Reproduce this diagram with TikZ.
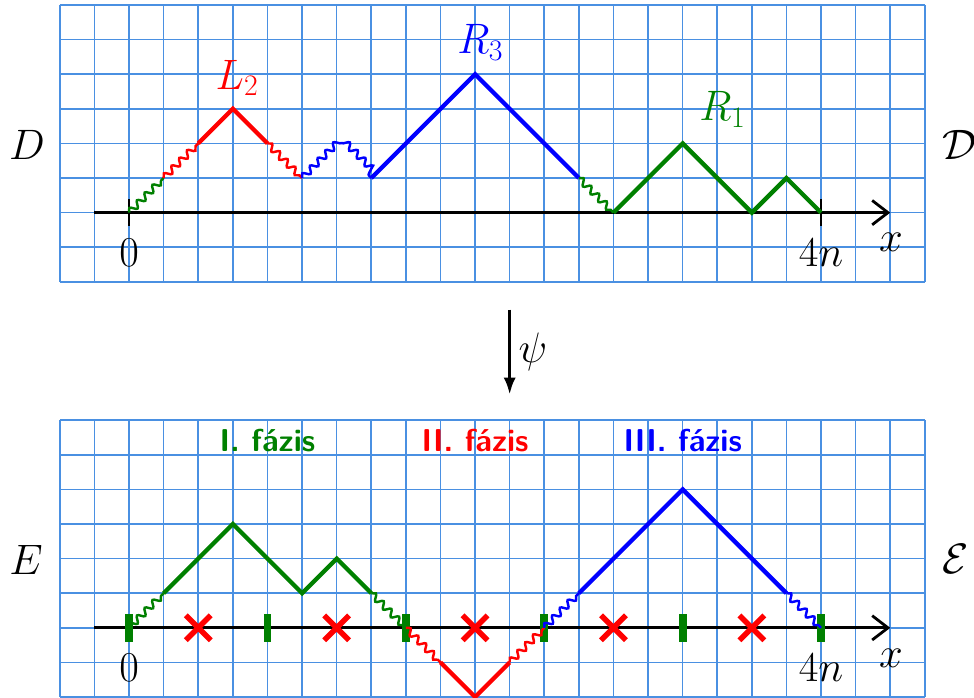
\RequirePackage{fix-cm}
\documentclass[tikz,border=0pt]{standalone}
\usetikzlibrary{arrows.meta, decorations.pathmorphing}
\definecolor{gridblue}{RGB}{74,144,226}
\definecolor{dgreen}{RGB}{0,128,0}

\begin{document}
\begin{tikzpicture}[
    gridl/.style  = {draw=gridblue, line width=1.3pt},
    axis/.style   = {line width=2.3pt, -{Straight Barb[length=13pt,width=20pt]}},
    tickl/.style  = {line width=2.3pt},
    thk/.style    = {line width=3.5pt},
    snk/.style    = {line width=2pt, decorate,
                     decoration={snake, segment length=9pt, amplitude=2.6pt}},
    phasetick/.style = {dgreen, line width=6.5pt},
    crs/.style    = {red, line width=4.5pt},
    lbl/.style    = {font=\fontsize{35}{42}\selectfont},
    phase/.style  = {font=\fontsize{26}{31}\selectfont\sffamily\bfseries, anchor=base},
    maparr/.style = {line width=2.6pt, -{Latex[length=14pt,width=10pt]}}
  ]
    \useasboundingbox (-3.73,-14) rectangle (24.42,6.145);

    % upper path D
    \draw[gridl] (-2,-2) grid (23,6);
    \coordinate (dstart) at (-1,0);
    \coordinate (dend)   at (22,0);
    \draw[axis] (dstart) -- (dend);
    \draw[tickl] (0,-0.38) -- (0,0.38);
    \draw[tickl] (20,-0.38) -- (20,0.38);

    \draw[snk, dgreen] (0,0) -- (1,1);
    \draw[snk, red] (1,1) -- (2,2);
    \draw[thk, red] (2,2) -- (3,3) -- (4,2);
    \draw[snk, red] (4,2) -- (5,1);
    \draw[snk, blue] (5,1) -- (6,2) -- (7,1);
    \draw[thk, blue] (7,1) -- (10,4) -- (13,1);
    \draw[snk, dgreen] (13,1) -- (14,0);
    \draw[thk, dgreen] (14,0) -- (16,2) -- (18,0) -- (19,1) -- (20,0);

    \node[lbl, red]    (ltwo)   at (3.12,3.9)   {$L_2$};
    \node[lbl, blue]   (rthree) at (10.15,4.92) {$R_3$};
    \node[lbl, dgreen] (rone)   at (17.15,2.98) {$R_1$};

    \node[lbl] (dzero) at (0,-1.15)    {$0$};
    \node[lbl] (dfour) at (20,-1.15)   {$4n$};
    \node[lbl] (dx)    at (22.02,-0.87) {$x$};
    \node[lbl] (dname) at (-2.95,1.97) {$D$};
    \node[lbl] (dcal)  at (24,1.97)    {$\mathcal{D}$};

    % the map
    \coordinate (psitop) at (11,-2.8);
    \coordinate (psibot) at (11,-5.26);
    \draw[maparr] (psitop) -- node[lbl, right, inner sep=6pt] (psi) {$\psi$} (psibot);

    % lower path E
    \begin{scope}[yshift=-12cm]
      \draw[gridl] (-2,-2) grid (23,6);
      \coordinate (estart) at (-1,0);
      \coordinate (eend)   at (22,0);
      \draw[axis] (estart) -- (eend);
      \foreach \x in {0,4,...,20}
        \draw[phasetick] (\x,-0.4) -- (\x,0.4);
      \foreach \x in {2,6,...,18}
        \draw[crs] (\x-0.36,-0.36) -- (\x+0.36,0.36)
                   (\x-0.36,0.36) -- (\x+0.36,-0.36);

      \draw[snk, dgreen] (0,0) -- (1,1);
      \draw[thk, dgreen] (1,1) -- (3,3) -- (5,1) -- (6,2) -- (7,1);
      \draw[snk, dgreen] (7,1) -- (8,0);
      \draw[snk, red] (8,0) -- (9,-1);
      \draw[thk, red] (9,-1) -- (10,-2) -- (11,-1);
      \draw[snk, red] (11,-1) -- (12,0);
      \draw[snk, blue] (12,0) -- (13,1);
      \draw[thk, blue] (13,1) -- (16,4) -- (19,1);
      \draw[snk, blue] (19,1) -- (20,0);

      \node[phase, dgreen] (ph1) at (4,5.09)  {I. fázis};
      \node[phase, red]    (ph2) at (10,5.09) {II. fázis};
      \node[phase, blue]   (ph3) at (16,5.09) {III. fázis};

      \node[lbl] (ezero) at (0,-1.15)    {$0$};
      \node[lbl] (efour) at (20,-1.15)   {$4n$};
      \node[lbl] (ex)    at (22.02,-0.87) {$x$};
      \node[lbl] (ename) at (-2.98,1.97) {$E$};
      \node[lbl] (ecal)  at (23.9,2)     {$\mathcal{E}$};
    \end{scope}
\end{tikzpicture}
\end{document}
